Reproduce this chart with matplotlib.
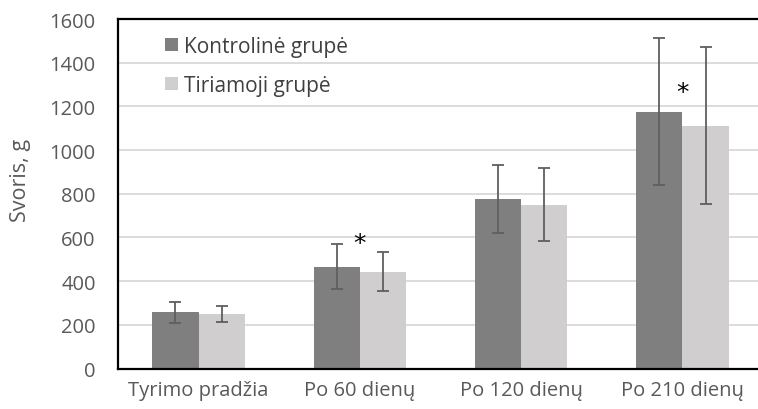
import numpy as np
import matplotlib.pyplot as plt

categories = ['Tyrimo pradžia', 'Po 60 dienų', 'Po 120 dienų', 'Po 210 dienų']
kontroline = [258, 466, 775, 1176]
kontroline_err = [48, 104, 155, 335]
tiriamoji = [250, 443, 750, 1112]
tiriamoji_err = [35, 90, 168, 358]
star_pos = [(1, 575), (3, 1265)]

plt.rcParams['font.family'] = ['Open Sans', 'DejaVu Sans']

fig = plt.figure(figsize=(7.58, 4.10), dpi=100)
ax = fig.add_axes([118 / 758, 40.5 / 410, 645 / 758, 349.5 / 410])

x = np.arange(len(categories))
w = 0.2875
ekw = dict(ecolor='#5f5f5f', elinewidth=1.3, capsize=4.5, capthick=1.3)
ax.bar(x - w / 2, kontroline, w, yerr=kontroline_err, color='#7f7f7f',
       label='Kontrolinė grupė', error_kw=ekw, zorder=2)
ax.bar(x + w / 2, tiriamoji, w, yerr=tiriamoji_err, color='#d0cece',
       label='Tiriamoji grupė', error_kw=ekw, zorder=2)

for xs, ys in star_pos:
    ax.text(xs, ys, '*', ha='center', va='center', fontsize=18,
            color='black', family='DejaVu Sans')

ax.set_xlim(-0.5, 3.5)
ax.set_ylim(0, 1600)
ax.set_yticks(range(0, 1601, 200))
ax.set_xticks(x)
ax.set_xticklabels(categories)
ax.yaxis.grid(True, color='#d9d9d9', linewidth=1.3, zorder=0)
ax.set_axisbelow(True)
ax.tick_params(length=0, labelsize=14.5, colors='#595959')
ax.tick_params(axis='x', pad=8)
ax.tick_params(axis='y', pad=16)
for s in ax.spines.values():
    s.set_linewidth(1.6)
    s.set_color('black')
ax.set_ylabel('Svoris, g', fontsize=15.5, color='#595959')
ax.yaxis.set_label_coords(-0.135, 0.54)

ax.legend(loc='upper left', bbox_to_anchor=(0.044, 1.005), frameon=False,
          fontsize=15, labelcolor='#404040', handlelength=0.6,
          handleheight=0.6, handletextpad=0.3, labelspacing=0.85)

fig.savefig('out.png', dpi=100)
